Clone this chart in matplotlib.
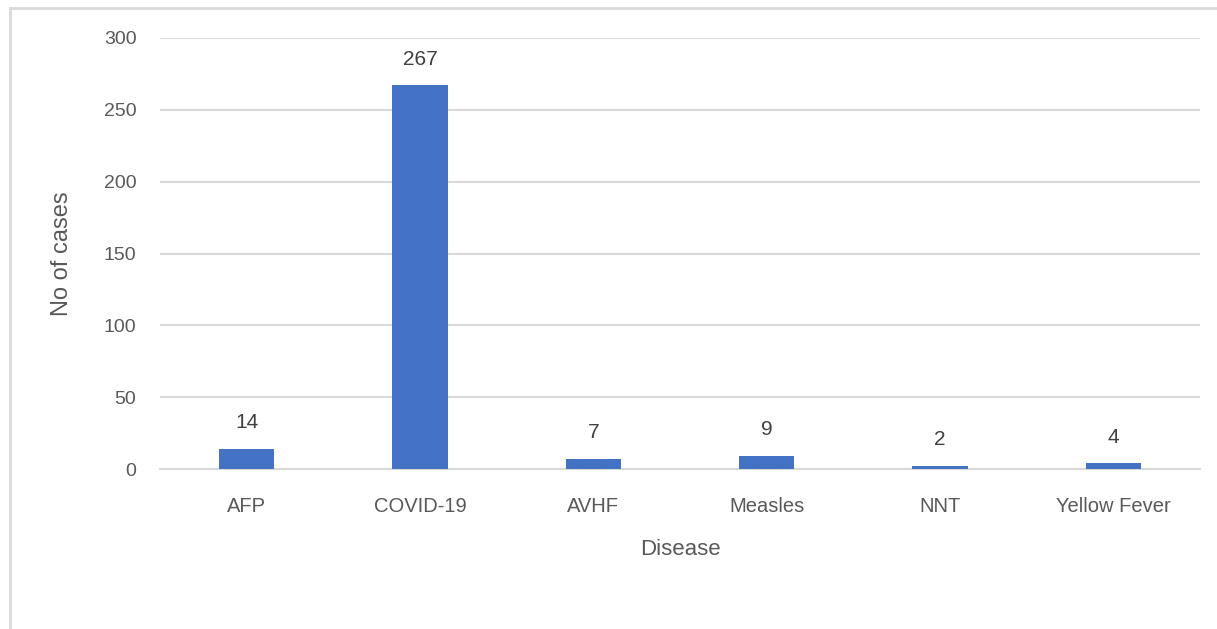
import matplotlib.pyplot as plt
from matplotlib.lines import Line2D

diseases = ["AFP", "COVID-19", "AVHF", "Measles", "NNT", "Yellow Fever"]
cases = [14, 267, 7, 9, 2, 4]
yticks = [0, 50, 100, 150, 200, 250, 300]

plt.rcParams['font.family'] = ['Liberation Sans', 'DejaVu Sans']
grey = "#595959"

fig = plt.figure(figsize=(12.17, 6.29), dpi=100)
W, H = 1217, 629

# outer chart frame: only the left and top edges fall inside the image
frame = dict(transform=fig.transFigure, color="#d9d9d9", linewidth=2)
fig.lines.append(Line2D([10 / W, 10 / W], [0, 1 - 8 / H], **frame))
fig.lines.append(Line2D([10 / W, 1], [1 - 8 / H, 1 - 8 / H], **frame))

ax = fig.add_axes([160 / W, 1 - 469 / H, 1040 / W, (469 - 38) / H])
x = range(len(diseases))
bars = ax.bar(x, cases, width=0.32, color="#4472c4", zorder=3)
for b, v in zip(bars, cases):
    ax.annotate(str(v), (b.get_x() + b.get_width() / 2, v), xytext=(0, 12),
                textcoords="offset points", ha="center", va="bottom",
                fontsize=15, color="#404040")

ax.set_xlim(-0.5, len(diseases) - 0.5)
ax.set_ylim(0, 300)
ax.set_yticks(yticks)
ax.set_xticks(list(x))
ax.set_xticklabels(diseases)
ax.yaxis.grid(True, color="#d9d9d9", linewidth=1.5, zorder=0)
for s in ["top", "right", "left"]:
    ax.spines[s].set_visible(False)
ax.spines["bottom"].set_color("#d9d9d9")
ax.spines["bottom"].set_linewidth(1.5)
ax.tick_params(axis="both", length=0, colors=grey)
ax.tick_params(axis="x", pad=20, labelsize=14.5)
ax.tick_params(axis="y", pad=17, labelsize=14)

ax.set_xlabel("Disease", fontsize=16, color=grey, labelpad=17)
ax.set_ylabel("No of cases", fontsize=17, color=grey, labelpad=22)

fig.savefig("out.png", dpi=100)
